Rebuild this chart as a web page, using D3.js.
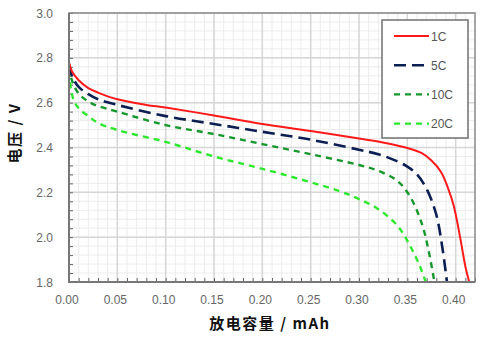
<!DOCTYPE html>
<html>
<head>
<meta charset="utf-8">
<script src="https://cdn.jsdelivr.net/npm/d3@7"></script>
<style>
  html, body { margin: 0; padding: 0; background: #fff; }
  svg { display: block; }
</style>
</head>
<body>
<svg id="chart" width="492" height="342"></svg>
<script>
// Discharge curves: capacity (mAh) vs voltage (V) at several C-rates
const seriesNames = ["1C", "5C", "10C", "20C"];

const cap1C  = [0, 0.003, 0.01, 0.02, 0.03, 0.05, 0.08, 0.10, 0.15, 0.20, 0.25, 0.30, 0.33, 0.35, 0.365, 0.375, 0.385, 0.392, 0.398, 0.405, 0.41, 0.414];
const volt1C = [2.78, 2.74, 2.70, 2.665, 2.645, 2.615, 2.59, 2.578, 2.543, 2.505, 2.474, 2.44, 2.418, 2.398, 2.375, 2.342, 2.29, 2.22, 2.14, 1.99, 1.87, 1.80];

const cap5C  = [0, 0.003, 0.01, 0.02, 0.03, 0.05, 0.10, 0.15, 0.20, 0.25, 0.30, 0.32, 0.336, 0.35, 0.36, 0.37, 0.38, 0.386, 0.391];
const volt5C = [2.77, 2.72, 2.67, 2.638, 2.615, 2.59, 2.54, 2.505, 2.47, 2.435, 2.39, 2.37, 2.345, 2.315, 2.28, 2.215, 2.10, 1.96, 1.80];

const cap10C  = [0, 0.003, 0.01, 0.02, 0.03, 0.05, 0.10, 0.15, 0.20, 0.25, 0.30, 0.32, 0.34, 0.353, 0.365, 0.372, 0.378];
const volt10C = [2.76, 2.70, 2.64, 2.605, 2.585, 2.56, 2.50, 2.46, 2.415, 2.37, 2.322, 2.296, 2.25, 2.18, 2.06, 1.94, 1.80];

const cap20C  = [0, 0.002, 0.005, 0.01, 0.02, 0.03, 0.05, 0.10, 0.15, 0.20, 0.25, 0.28, 0.30, 0.32, 0.34, 0.353, 0.363, 0.369];
const volt20C = [2.74, 2.66, 2.61, 2.575, 2.54, 2.51, 2.478, 2.425, 2.36, 2.305, 2.245, 2.205, 2.17, 2.125, 2.05, 1.96, 1.87, 1.80];

const xTickLabels = ["0.00", "0.05", "0.10", "0.15", "0.20", "0.25", "0.30", "0.35", "0.40"];
const yTickLabels = ["1.8", "2.0", "2.2", "2.4", "2.6", "2.8", "3.0"];

const xTitle = "放电容量 / mAh";
const yTitle = "电压 / V";

const series = [
  { name: seriesNames[0], x: cap1C,  y: volt1C,  color: "#ff1a1a", width: 2,   dash: null },
  { name: seriesNames[1], x: cap5C,  y: volt5C,  color: "#0b1f52", width: 2.6, dash: "12,6" },
  { name: seriesNames[2], x: cap10C, y: volt10C, color: "#15982b", width: 2.4, dash: "6,5" },
  { name: seriesNames[3], x: cap20C, y: volt20C, color: "#2ee82e", width: 2.4, dash: "6,5" }
];

const svg = d3.select("#chart");
const pL = 69, pR = 475, pT = 13, pB = 282;

const x = d3.scaleLinear().domain([0, 0.42]).range([pL, pR]);
const y = d3.scaleLinear().domain([1.8, 3.0]).range([pB, pT]);

// minor grid
const g = svg.append("g");
const minorX = d3.range(0, 0.4201, 0.01);
const minorY = d3.range(1.8, 3.0001, 0.04);
g.selectAll(".mx").data(minorX).enter().append("line")
  .attr("x1", d => x(d)).attr("x2", d => x(d)).attr("y1", pT).attr("y2", pB)
  .attr("stroke", "#ececec").attr("stroke-width", 1);
g.selectAll(".my").data(minorY).enter().append("line")
  .attr("x1", pL).attr("x2", pR).attr("y1", d => y(d)).attr("y2", d => y(d))
  .attr("stroke", "#ececec").attr("stroke-width", 1);

// major grid
const majorX = xTickLabels.map(Number);
const majorY = yTickLabels.map(Number);
g.selectAll(".Mx").data(majorX).enter().append("line")
  .attr("x1", d => x(d)).attr("x2", d => x(d)).attr("y1", pT).attr("y2", pB)
  .attr("stroke", "#d6d6d6").attr("stroke-width", 1.5);
g.selectAll(".My").data(majorY).enter().append("line")
  .attr("x1", pL).attr("x2", pR).attr("y1", d => y(d)).attr("y2", d => y(d))
  .attr("stroke", "#d6d6d6").attr("stroke-width", 1.5);

// axes with inward ticks
const xAxis = d3.axisBottom(x).tickValues(minorX).tickSize(-4).tickFormat("");
const yAxis = d3.axisLeft(y).tickValues(minorY).tickSize(-4).tickFormat("");
const xa = svg.append("g").attr("transform", `translate(0,${pB})`).call(xAxis);
const ya = svg.append("g").attr("transform", `translate(${pL},0)`).call(yAxis);
[xa, ya].forEach(a => {
  a.select(".domain").remove();
  a.selectAll(".tick line").attr("stroke", "#666").attr("stroke-width", 1);
});

// tick labels
svg.append("g").selectAll("text").data(xTickLabels).enter().append("text")
  .attr("x", d => x(+d) - 2).attr("y", 304)
  .attr("text-anchor", "middle")
  .attr("font-family", "Liberation Sans, Arial, sans-serif")
  .attr("font-size", 12).attr("fill", "#666")
  .text(d => d);
svg.append("g").selectAll("text").data(yTickLabels).enter().append("text")
  .attr("x", 53).attr("y", d => y(+d) + 4.5)
  .attr("text-anchor", "end")
  .attr("font-family", "Liberation Sans, Arial, sans-serif")
  .attr("font-size", 12).attr("fill", "#666")
  .text(d => d);

// curves
const line = d3.line().curve(d3.curveCatmullRom.alpha(0.5));
const plot = svg.append("g");
plot.append("clipPath").attr("id", "clip").append("rect")
  .attr("x", pL).attr("y", pT).attr("width", pR - pL).attr("height", pB - pT);
series.slice().reverse().forEach(s => {
  const pts = s.x.map((v, i) => [x(v), y(s.y[i])]);
  plot.append("path")
    .attr("d", line(pts))
    .attr("fill", "none")
    .attr("stroke", s.color)
    .attr("stroke-width", s.width)
    .attr("stroke-dasharray", s.dash)
    .attr("clip-path", "url(#clip)");
});

// frame
svg.append("rect")
  .attr("x", pL).attr("y", pT).attr("width", pR - pL).attr("height", pB - pT)
  .attr("fill", "none").attr("stroke", "#8a8a8a").attr("stroke-width", 1.5);
svg.append("line").attr("x1", pL).attr("x2", pL).attr("y1", pT).attr("y2", pB + 1)
  .attr("stroke", "#777").attr("stroke-width", 2);
svg.append("line").attr("x1", pL - 1).attr("x2", pR).attr("y1", pB).attr("y2", pB)
  .attr("stroke", "#777").attr("stroke-width", 2);

// legend
const lg = svg.append("g");
lg.append("rect").attr("x", 382).attr("y", 20).attr("width", 86).attr("height", 118)
  .attr("fill", "#fff").attr("stroke", "#707070").attr("stroke-width", 1.5);
series.forEach((s, i) => {
  const yy = 36 + i * 29.2;
  lg.append("line").attr("x1", 394).attr("x2", 429).attr("y1", yy).attr("y2", yy)
    .attr("stroke", s.color).attr("stroke-width", s.width)
    .attr("stroke-dasharray", s.dash);
  lg.append("text").attr("x", 431).attr("y", yy + 4.5)
    .attr("font-family", "Liberation Sans, Arial, sans-serif")
    .attr("font-size", 12).attr("fill", "#555")
    .text(s.name);
});

// axis titles
svg.append("text")
  .attr("x", 270).attr("y", 329)
  .attr("text-anchor", "middle")
  .attr("font-family", "Noto Sans CJK SC, sans-serif")
  .attr("font-weight", "bold").attr("font-size", 15)
  .attr("letter-spacing", 1.5)
  .attr("fill", "#111")
  .text(xTitle);
svg.append("text")
  .attr("transform", "translate(20,133) rotate(-90)")
  .attr("text-anchor", "middle")
  .attr("font-family", "Noto Sans CJK SC, sans-serif")
  .attr("font-weight", "bold").attr("font-size", 15)
  .attr("letter-spacing", 1.5)
  .attr("fill", "#111")
  .text(yTitle);
</script>
</body>
</html>
